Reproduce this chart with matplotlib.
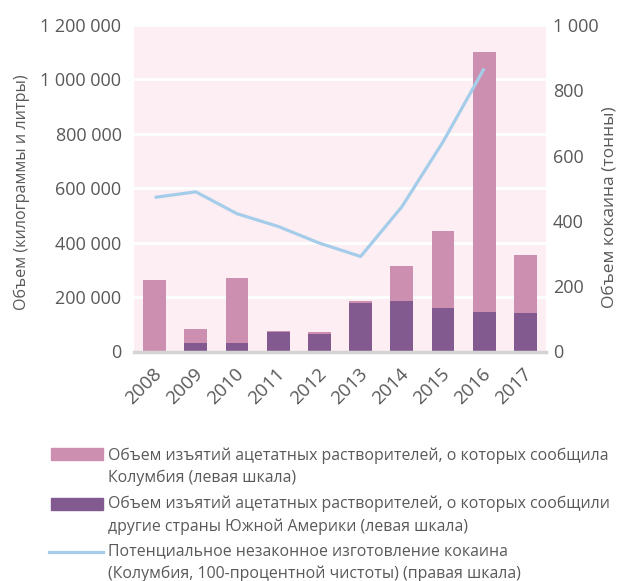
import matplotlib
matplotlib.use('Agg')
import matplotlib.pyplot as plt
import matplotlib.transforms as mtransforms
import numpy as np
from matplotlib.patches import Rectangle
from matplotlib.lines import Line2D
from matplotlib.ticker import FuncFormatter

plt.rcParams['font.family'] = ['Open Sans', 'DejaVu Sans']

# Datos
anios = ['2008', '2009', '2010', '2011', '2012', '2013', '2014', '2015', '2016', '2017']
colombia = [261000, 51000, 240000, 7000, 6000, 4000, 132000, 283000, 952000, 210000]
otros = [0, 30000, 30000, 70000, 64000, 180000, 184000, 159000, 147000, 143000]
cocaina = [472, 489, 422, 383, 332, 291, 443, 642, 867]

etiquetas = [
    'Объем изъятий ацетатных растворителей, о которых сообщила\nКолумбия (левая шкала)',
    'Объем изъятий ацетатных растворителей, о которых сообщили\nдругие страны Южной Америки (левая шкала)',
    'Потенциальное незаконное изготовление кокаина\n(Колумбия, 100-процентной чистоты) (правая шкала)',
]

# Colores
c_col = '#CC8FB0'
c_otros = '#825A90'
c_linea = '#A5CDE9'
c_fondo = '#FDEEF3'
c_texto = '#595959'

W, H = 618, 581
fig = plt.figure(figsize=(W / 100, H / 100), dpi=100)
ax = fig.add_axes([134 / W, 1 - 351.5 / H, 412 / W, 326.5 / H])
ax.set_facecolor(c_fondo)

x = np.arange(len(anios))
ancho = 0.55
ax.bar(x, otros, width=ancho, color=c_otros, zorder=3)
ax.bar(x, colombia, width=ancho, bottom=otros, color=c_col, zorder=3)

ax.set_xlim(-0.5, len(anios) - 0.5)
ax.set_ylim(0, 1200000)
ax.set_yticks(np.arange(0, 1200001, 200000))
ax.yaxis.set_major_formatter(FuncFormatter(lambda v, p: f'{int(v):,}'.replace(',', ' ')))
ax.grid(axis='y', color='white', linewidth=2, zorder=1)
ax.set_axisbelow(True)

for s in ['top', 'left', 'right']:
    ax.spines[s].set_visible(False)
ax.spines['bottom'].set_color('#D4D4D4')
ax.spines['bottom'].set_linewidth(2.5)
ax.spines['bottom'].set_zorder(4)

ax.set_xticks(x)
ax.set_xticklabels(anios)
ax.tick_params(axis='both', length=0, labelsize=13, labelcolor=c_texto)
ax.tick_params(axis='y', pad=9)
ax.tick_params(axis='x', pad=14, labelsize=13.5)
desplaz = mtransforms.ScaledTranslation(4 / 100, 0, fig.dpi_scale_trans)
for lab in ax.get_xticklabels():
    lab.set_rotation(45)
    lab.set_ha('right')
    lab.set_va('center')
    lab.set_rotation_mode('anchor')
    lab.set_transform(lab.get_transform() + desplaz)

# Eje derecho
ax2 = ax.twinx()
ax2.plot(x[:len(cocaina)], cocaina, color=c_linea, linewidth=2.3, solid_capstyle='butt', zorder=5)
ax2.set_ylim(0, 1000)
ax2.set_yticks(np.arange(0, 1001, 200))
ax2.yaxis.set_major_formatter(FuncFormatter(lambda v, p: f'{int(v):,}'.replace(',', ' ')))
ax2.tick_params(axis='y', length=0, labelsize=13, labelcolor=c_texto, pad=5)
for s in ax2.spines.values():
    s.set_visible(False)

fig.text(22 / W, 1 - 192 / H, 'Объем (килограммы и литры)', rotation=90,
         ha='center', va='center', fontsize=11.6, color=c_texto)
fig.text(610 / W, 1 - 207 / H, 'Объем кокаина (тонны)', rotation=90,
         ha='center', va='center', fontsize=12.5, color=c_texto)

# Leyenda
fig.add_artist(Rectangle((51 / W, 1 - 460 / H), 52 / W, 12 / H, color=c_col,
                         transform=fig.transFigure))
fig.add_artist(Rectangle((51 / W, 1 - 510 / H), 52 / W, 12 / H, color=c_otros,
                         transform=fig.transFigure))
fig.add_artist(Line2D([49 / W, 103 / W], [1 - 551.5 / H, 1 - 551.5 / H], color=c_linea,
                      linewidth=2.3, transform=fig.transFigure))
for i, yy in enumerate([456, 505, 552]):
    fig.text(108 / W, 1 - (yy - 9) / H, etiquetas[i], ha='left', va='top',
             fontsize=11.4, color=c_texto, linespacing=1.5)

plt.savefig('out.png', dpi=100)
